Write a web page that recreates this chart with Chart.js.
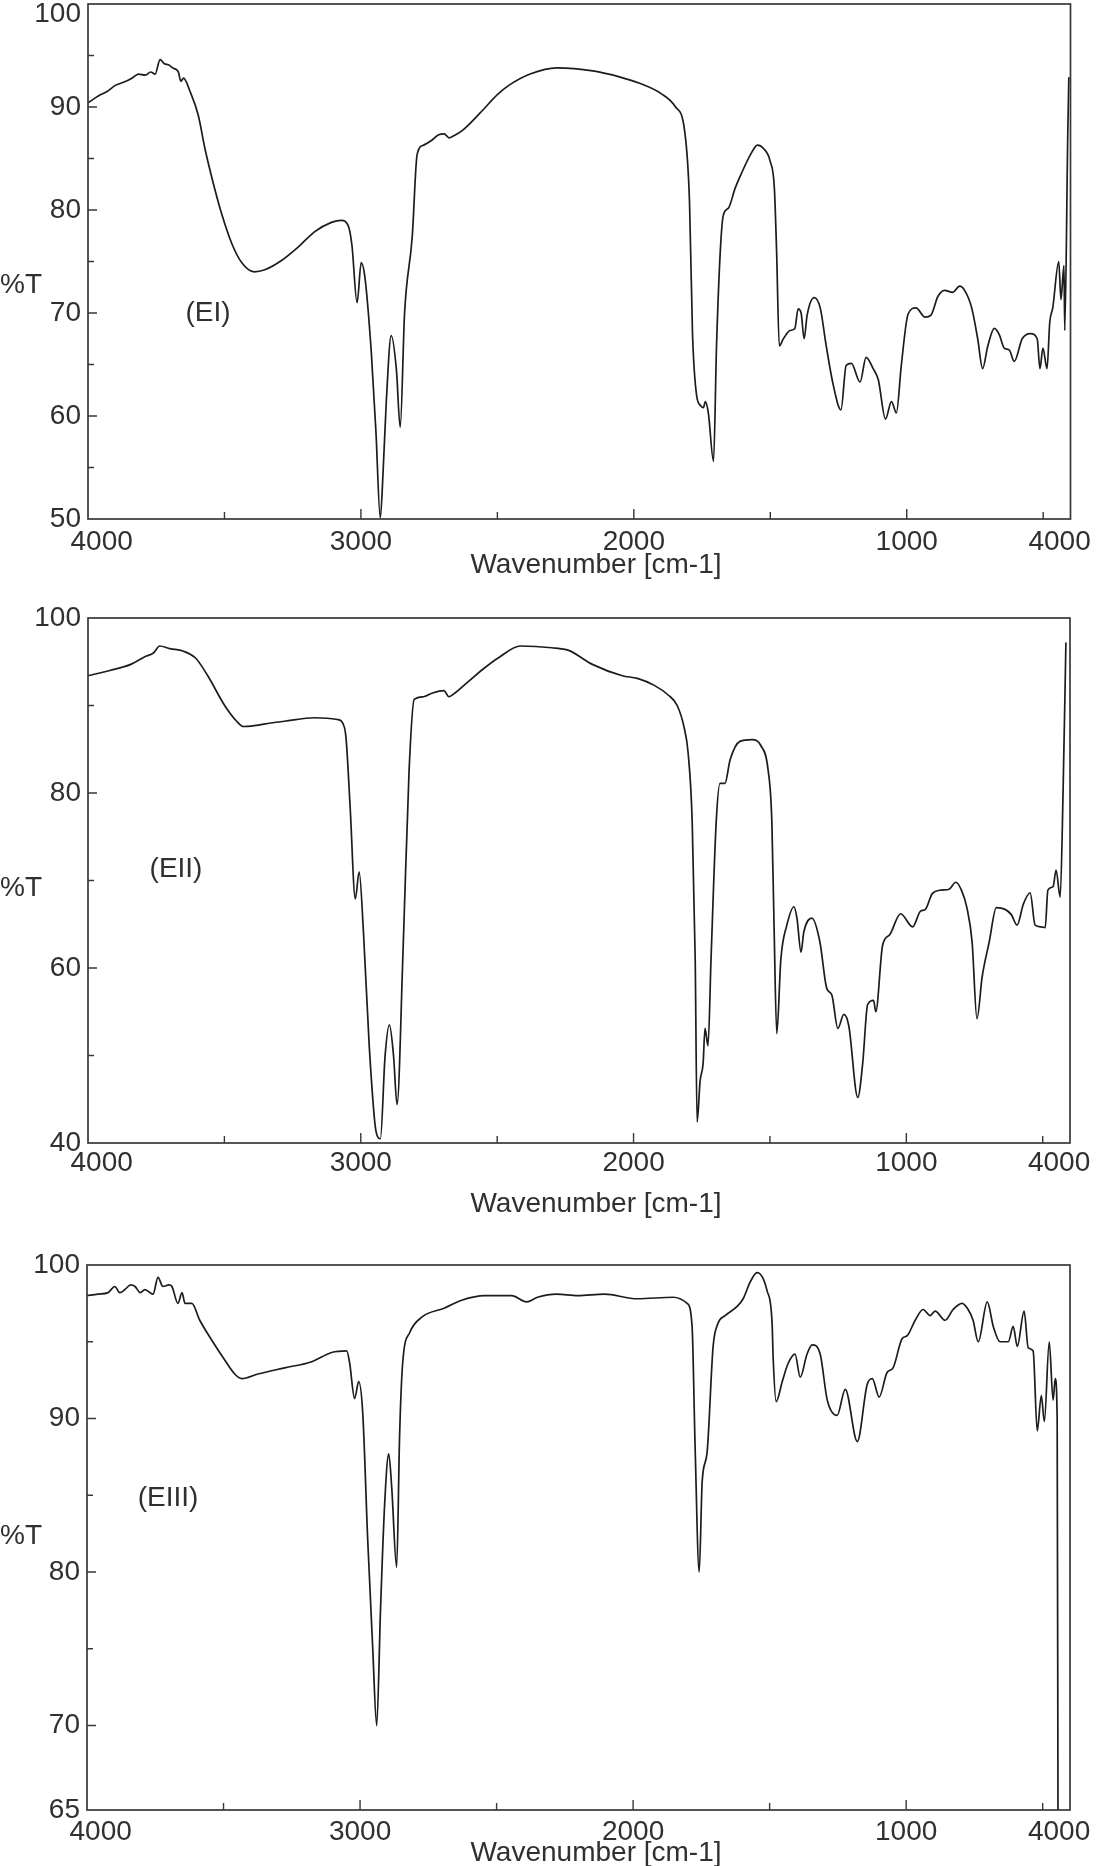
<!DOCTYPE html>
<html>
<head>
<meta charset="utf-8">
<title>IR spectra EI / EII / EIII</title>
<script src="https://cdn.jsdelivr.net/npm/chart.js@4.4.1/dist/chart.umd.min.js"></script>
<style>
  html, body { margin: 0; padding: 0; background: #fff; }
  body { width: 1097px; height: 1866px; position: relative; overflow: hidden; }
  .panel { position: absolute; left: 0; width: 1097px; }
</style>
</head>
<body>
<div class="panel" style="top:0;height:585px"><canvas id="chartE1"></canvas></div>
<div class="panel" style="top:600px;height:620px"><canvas id="chartE2"></canvas></div>
<div class="panel" style="top:1230px;height:636px"><canvas id="chartE3"></canvas></div>
<script>
// ---- spectrum EI ----
const e1Wavenumber = [4000, 3961, 3930, 3900, 3870, 3839, 3815, 3790, 3770, 3754, 3736, 3720, 3705, 3690, 3669, 3660, 3650, 3626, 3596, 3571,
  3541, 3510, 3474, 3437, 3391, 3352, 3291, 3230, 3169, 3108, 3072, 3047, 3033, 3014, 2999, 2986, 2962, 2945, 2929, 2918,
  2907, 2889, 2870, 2856, 2840, 2812, 2794, 2770, 2739, 2715, 2695, 2677, 2660, 2629, 2564, 2500, 2458, 2380, 2282, 2150,
  2050, 1979, 1900, 1847, 1814, 1796, 1785, 1770, 1755, 1745, 1738, 1727, 1708, 1697, 1683, 1672, 1653, 1629, 1605, 1570,
  1547, 1526, 1500, 1485, 1477, 1467, 1452, 1428, 1410, 1398, 1387, 1376, 1365, 1339, 1317, 1295, 1270, 1241, 1222, 1203,
  1171, 1149, 1123, 1104, 1078, 1056, 1038, 1020, 995, 966, 933, 911, 886, 861, 832, 806, 788, 762, 740, 722,
  703, 679, 661, 643, 624, 606, 577, 547, 522, 512, 501, 486, 476, 465, 443, 435, 424, 421, 410, 406];
const e1Transmittance = [90.4, 91.1, 91.5, 92.1, 92.4, 92.8, 93.2, 93.1, 93.4, 93.2, 94.6, 94.2, 94.1, 93.8, 93.4, 92.5, 92.8, 91.5, 89.2, 85.9,
  82.6, 79.6, 76.8, 74.9, 74.0, 74.2, 75.1, 76.4, 77.9, 78.8, 79.0, 78.5, 76.6, 71.0, 74.9, 73.6, 66.2, 58.5, 50.1, 55.0,
  61.4, 67.8, 64.5, 58.9, 70.0, 77.4, 85.4, 86.3, 86.8, 87.3, 87.4, 87.0, 87.2, 87.7, 89.4, 91.2, 92.1, 93.2, 93.8, 93.5,
  92.9, 92.3, 91.3, 90.0, 87.7, 80.8, 68.0, 62.0, 61.0, 60.8, 61.4, 60.3, 55.6, 66.8, 76.1, 79.5, 80.2, 82.1, 83.6, 85.5,
  86.3, 86.0, 84.7, 82.1, 76.1, 66.8, 67.5, 68.3, 68.5, 70.4, 70.0, 67.5, 69.8, 71.5, 70.5, 66.8, 63.1, 60.6, 64.9, 65.1,
  63.3, 65.7, 64.6, 63.5, 59.7, 61.4, 60.3, 64.9, 69.9, 70.5, 69.6, 69.8, 71.6, 72.2, 72.0, 72.6, 72.2, 70.5, 67.5, 64.6,
  66.8, 68.5, 67.9, 66.6, 66.4, 65.3, 67.5, 68.0, 67.5, 64.6, 66.6, 64.6, 69.1, 70.5, 75.0, 71.3, 74.6, 68.3, 87.3, 92.9];

// ---- spectrum EII ----
const e2Wavenumber = [4000, 3920, 3843, 3790, 3760, 3737, 3700, 3650, 3605, 3561, 3499, 3455, 3430, 3390, 3330, 3280, 3170, 3086, 3060, 3053,
  3039, 3020, 3006, 2990, 2969, 2944, 2928, 2911, 2895, 2880, 2867, 2845, 2823, 2804, 2770, 2739, 2695, 2677, 2660, 2607,
  2550, 2498, 2414, 2300, 2238, 2151, 2041, 1986, 1924, 1873, 1840, 1814, 1800, 1785, 1774, 1767, 1756, 1745, 1738, 1727,
  1716, 1697, 1683, 1665, 1646, 1610, 1566, 1533, 1507, 1493, 1485, 1475, 1460, 1438, 1412, 1401, 1386, 1376, 1346, 1317,
  1292, 1273, 1251, 1229, 1211, 1178, 1160, 1142, 1120, 1112, 1087, 1061, 1021, 977, 948, 930, 905, 873, 843, 819,
  798, 778, 759, 741, 722, 696, 670, 638, 615, 594, 571, 546, 528, 506, 491, 481, 462, 451, 436, 425, 415];
const e2Transmittance = [93.4, 94.0, 94.7, 95.6, 96.0, 96.8, 96.5, 96.2, 95.4, 93.4, 90.0, 88.2, 87.6, 87.7, 88.0, 88.2, 88.6, 88.4, 87.5, 85.9,
  78.4, 67.9, 71.0, 64.0, 51.1, 41.3, 40.5, 49.9, 53.5, 50.0, 44.4, 62.0, 82.5, 90.7, 91.0, 91.4, 91.7, 91.0, 91.3, 92.7,
  94.2, 95.4, 96.8, 96.6, 96.3, 94.7, 93.4, 93.1, 92.3, 91.2, 90.0, 87.4, 84.6, 76.7, 61.0, 42.4, 47.1, 49.1, 53.1, 51.1,
  61.0, 76.7, 81.1, 81.1, 83.8, 85.9, 86.1, 85.4, 82.7, 76.7, 64.9, 52.5, 61.0, 64.9, 67.0, 65.7, 61.8, 64.1, 65.7, 63.0,
  57.7, 56.9, 53.1, 54.7, 53.4, 45.2, 49.1, 55.8, 56.3, 55.0, 62.6, 63.8, 66.2, 64.7, 66.5, 66.7, 68.5, 68.9, 69.0, 69.8,
  68.9, 66.9, 63.0, 54.2, 59.0, 63.0, 66.9, 66.7, 66.1, 64.9, 67.3, 68.6, 64.9, 64.7, 64.6, 68.9, 69.3, 71.2, 68.1, 80.7, 97.2];

// ---- spectrum EIII ----
const e3Wavenumber = [4000, 3960, 3923, 3898, 3880, 3861, 3840, 3824, 3805, 3788, 3758, 3740, 3722, 3700, 3689, 3667, 3652, 3641, 3616, 3587,
  3543, 3495, 3459, 3433, 3374, 3276, 3177, 3104, 3049, 3038, 3020, 3005, 2990, 2972, 2954, 2939, 2925, 2910, 2895, 2884,
  2866, 2855, 2844, 2818, 2774, 2690, 2628, 2544, 2445, 2390, 2350, 2280, 2203, 2105, 1985, 1853, 1802, 1784, 1773, 1758,
  1747, 1729, 1707, 1689, 1663, 1619, 1597, 1571, 1546, 1509, 1491, 1487, 1476, 1454, 1432, 1407, 1388, 1363, 1344, 1315,
  1289, 1253, 1223, 1179, 1143, 1124, 1099, 1070, 1048, 1015, 996, 967, 938, 912, 894, 857, 828, 795, 773, 755,
  736, 703, 681, 656, 626, 608, 593, 568, 553, 535, 520, 505, 494, 476, 462, 454, 447, 444];
const e3Transmittance = [98.0, 98.1, 98.2, 98.6, 98.2, 98.4, 98.7, 98.6, 98.2, 98.4, 98.1, 99.2, 98.6, 98.7, 98.6, 97.5, 98.2, 97.5, 97.5, 96.4,
  95.1, 93.8, 92.9, 92.6, 92.9, 93.3, 93.7, 94.3, 94.4, 93.6, 91.3, 92.4, 90.3, 82.1, 75.2, 70.0, 77.6, 84.4, 87.7, 85.5,
  80.3, 89.0, 93.6, 95.6, 96.6, 97.2, 97.7, 98.0, 98.0, 97.6, 97.9, 98.1, 98.0, 98.1, 97.8, 97.9, 97.5, 96.0, 88.2, 80.0,
  85.9, 87.8, 94.7, 96.2, 96.7, 97.3, 97.8, 98.9, 99.5, 98.3, 96.2, 93.9, 91.1, 92.4, 93.6, 94.2, 92.7, 94.2, 94.8, 94.2,
  91.2, 90.2, 91.9, 88.5, 92.2, 92.6, 91.4, 93.0, 93.3, 95.2, 95.4, 96.4, 97.1, 96.7, 97.0, 96.4, 97.1, 97.5, 97.1, 96.4,
  95.0, 97.6, 96.0, 95.0, 95.0, 96.0, 94.7, 97.0, 94.6, 94.4, 89.2, 91.5, 89.8, 95.0, 91.2, 92.6, 90.0, 64.5];

// ---- axis labels (as printed; the last x label reads "4000" in the original) ----
const xLabelValues = [3950, 3000, 2000, 1000, 440];
const xLabelText = ['4000', '3000', '2000', '1000', '4000'];
const xMajorMarks = [3000, 2000, 1000];
const xMinorMarks = [3500, 2500, 1500, 500];

const e1YLabelValues = [50, 60, 70, 80, 90, 99];
const e1YLabelText = ['50', '60', '70', '80', '90', '100'];
const e2YLabelValues = [40, 60, 80, 100];
const e2YLabelText = ['40', '60', '80', '100'];
const e3YLabelValues = [64.5, 70, 80, 90, 100];
const e3YLabelText = ['65', '70', '80', '90', '100'];

Chart.defaults.font.family = '"Liberation Sans", Arial, Helvetica, sans-serif';
Chart.defaults.font.size = 28;
Chart.defaults.font.lineHeight = 1.2;
Chart.defaults.color = '#303030';

// frame, inward tick marks and free text
const framePlugin = {
  id: 'frame',
  afterDraw(chart, args, opts) {
    const ctx = chart.ctx;
    const a = chart.chartArea;
    const xs = chart.scales.x, ys = chart.scales.y;
    ctx.save();
    ctx.strokeStyle = '#383838';
    ctx.lineWidth = 1.7;
    ctx.strokeRect(a.left, a.top, a.right - a.left, a.bottom - a.top);
    ctx.lineWidth = 1.4;
    ctx.beginPath();
    xMajorMarks.forEach(v => { const p = xs.getPixelForValue(v); ctx.moveTo(p, a.bottom); ctx.lineTo(p, a.bottom - 10); });
    xMinorMarks.forEach(v => { const p = xs.getPixelForValue(v); ctx.moveTo(p, a.bottom); ctx.lineTo(p, a.bottom - 7); });
    opts.yMajor.forEach(v => { const p = ys.getPixelForValue(v); ctx.moveTo(a.left, p); ctx.lineTo(a.left + 9, p); });
    opts.yMinor.forEach(v => { const p = ys.getPixelForValue(v); ctx.moveTo(a.left, p); ctx.lineTo(a.left + 6, p); });
    ctx.stroke();

    ctx.fillStyle = '#303030';
    ctx.font = '28px "Liberation Sans", Arial, sans-serif';
    ctx.textBaseline = 'middle';
    opts.texts.forEach(t => {
      ctx.textAlign = t.align;
      ctx.fillText(t.text, t.x, t.y);
    });
    ctx.restore();
  }
};

function makeSpectrum(id, o) {
  return new Chart(document.getElementById(id), {
    type: 'line',
    data: {
      datasets: [{
        data: o.wn.map((w, i) => ({ x: w, y: o.tr[i] })),
        borderColor: '#1c1c1c',
        borderWidth: 1.7,
        pointRadius: 0,
        cubicInterpolationMode: 'monotone',
        fill: false
      }]
    },
    options: {
      responsive: true,
      maintainAspectRatio: false,
      animation: false,
      events: [],
      layout: { padding: { top: o.top, right: o.right, left: 0, bottom: 0 } },
      plugins: {
        legend: { display: false },
        tooltip: { enabled: false },
        frame: { yMajor: o.yMajor, yMinor: o.yMinor, texts: o.texts }
      },
      scales: {
        x: {
          type: 'linear',
          reverse: true,
          min: 400,
          max: 4000,
          grid: { display: false, drawTicks: false },
          border: { display: false },
          ticks: {
            autoSkip: false,
            maxRotation: 0,
            padding: o.xPad,
            callback: (v, i) => xLabelText[i]
          },
          afterBuildTicks: s => { s.ticks = xLabelValues.map(v => ({ value: v })); },
          afterFit: s => { s.height = o.xHeight; }
        },
        y: {
          min: o.yMin,
          max: o.yMax,
          grid: { display: false, drawTicks: false },
          border: { display: false },
          ticks: {
            autoSkip: false,
            padding: 7,
            callback: (v, i) => o.yText[i]
          },
          afterBuildTicks: s => { s.ticks = o.yValues.map(v => ({ value: v })); },
          afterFit: s => { s.width = o.yWidth; s.paddingTop = 0; s.paddingBottom = 0; }
        }
      }
    },
    plugins: [framePlugin]
  });
}

makeSpectrum('chartE1', {
  wn: e1Wavenumber, tr: e1Transmittance,
  yMin: 50, yMax: 100, yValues: e1YLabelValues, yText: e1YLabelText,
  yMajor: [60, 70, 80, 90], yMinor: [55, 65, 75, 85, 95],
  top: 4, right: 25, yWidth: 88, xHeight: 66, xPad: 6,
  texts: [
    { text: '%T', x: 0, y: 285, align: 'left' },
    { text: '(EI)', x: 208, y: 313, align: 'center' },
    { text: 'Wavenumber [cm-1]', x: 596, y: 565, align: 'center' }
  ]
});

makeSpectrum('chartE2', {
  wn: e2Wavenumber, tr: e2Transmittance,
  yMin: 40, yMax: 100, yValues: e2YLabelValues, yText: e2YLabelText,
  yMajor: [60, 80], yMinor: [50, 70, 90],
  top: 18, right: 27, yWidth: 88, xHeight: 77, xPad: 3,
  texts: [
    { text: '%T', x: 0, y: 288, align: 'left' },
    { text: '(EII)', x: 176, y: 269, align: 'center' },
    { text: 'Wavenumber [cm-1]', x: 596, y: 604, align: 'center' }
  ]
});

makeSpectrum('chartE3', {
  wn: e3Wavenumber, tr: e3Transmittance,
  yMin: 64.5, yMax: 100, yValues: e3YLabelValues, yText: e3YLabelText,
  yMajor: [70, 80, 90], yMinor: [75, 85, 95],
  top: 35, right: 27, yWidth: 87, xHeight: 56, xPad: 5,
  texts: [
    { text: '%T', x: 0, y: 306, align: 'left' },
    { text: '(EIII)', x: 168, y: 268, align: 'center' },
    { text: 'Wavenumber [cm-1]', x: 596, y: 623, align: 'center' }
  ]
});
</script>
</body>
</html>
